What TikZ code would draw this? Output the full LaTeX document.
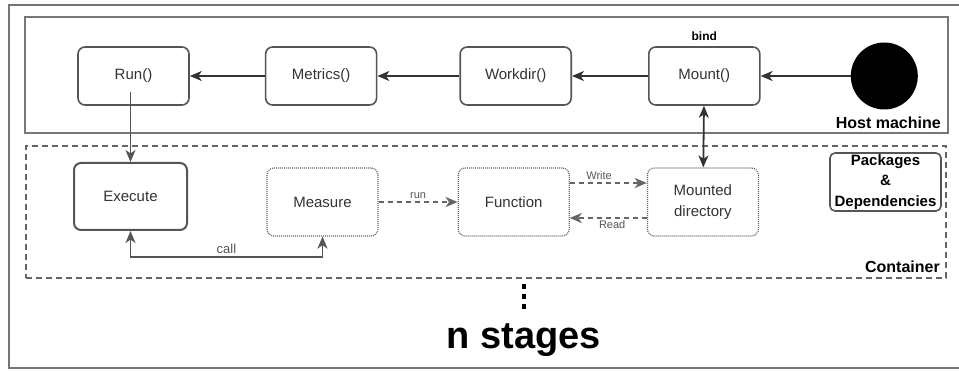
\documentclass[tikz,border=0pt]{standalone}
\usepackage{fontspec}
\setmainfont{Liberation Sans}
\usetikzlibrary{positioning,arrows.meta}
\definecolor{linegray}{HTML}{333333}
\definecolor{boxgray}{HTML}{555555}
\definecolor{framegray}{HTML}{74747E}
\definecolor{dashgray}{HTML}{666666}

\begin{document}
\begin{tikzpicture}[x=1pt, y=-1pt, >={Stealth[length=12pt,width=10pt,inset=3.5pt]},
  every node/.style={font=\fontsize{15}{18}\selectfont, text=linegray},
  fnbox/.style={draw=boxgray, line width=1.6pt, fill=white, rounded corners=7pt, minimum width=111pt, minimum height=58pt},
  dotbox/.style={draw=boxgray!90, line width=1.2pt, dash pattern=on 1pt off 1pt, fill=white, rounded corners=7pt, minimum width=111pt, minimum height=68pt, align=center},
  flow/.style={->, line width=1.8pt, draw=linegray},
  dflow/.style={flow, line width=2pt, draw=dashgray, dash pattern=on 5pt off 4pt},
  edgelabel/.style={font=\fontsize{11}{13}\selectfont, text=boxgray, inner sep=2pt},
  tag/.style={font=\bfseries\fontsize{16}{19}\selectfont, text=black, inner sep=0pt}]
  \fill[white] (0,0) rectangle (959,371);
  \useasboundingbox (0,0) rectangle (959,371);
  \draw[framegray, line width=2.5pt] (962,5) -- (9,5) -- (9,368) -- (962,368);

  % host side
  \node[draw=boxgray!80, line width=2pt, minimum width=923pt, minimum height=116pt] (host) at (486.5,75) {};
  \node[draw=dashgray, line width=2pt, dash pattern=on 6pt off 4pt, minimum width=920pt, minimum height=132pt] (container) at (486,212) {};

  \node[fnbox] (run) at (133.5,76) {Run()};
  \node[fnbox, right=75pt of run] (metrics) {Metrics()};
  \node[fnbox, right=82pt of metrics] (workdir) {Workdir()};
  \node[fnbox, right=76pt of workdir] (mount) {Mount()};
  \node[circle, fill=black, minimum size=67pt, inner sep=0pt, right=90pt of mount] (hostdot) {};
  \node[tag, font=\bfseries\fontsize{12}{14}\selectfont, above=5pt of mount] (bind) {bind};
  \node[tag, anchor=base east] (hostlbl) at ([xshift=-8pt, yshift=5pt]host.south east) {Host machine};

  % container side
  \node[fnbox, line width=2pt, minimum width=113pt, minimum height=67pt] (exec) at (130.5,196.5) {Execute};
  \node[dotbox] (measure) at (322.5,202) {Measure};
  \node[dotbox, right=79pt of measure] (func) {Function};
  \node[dotbox, right=77pt of func, font=\fontsize{15}{20.5}\selectfont] (mounted) {Mounted\\directory};
  \node[fnbox, rounded corners=5pt, inner sep=1pt, align=center, text=black, font=\bfseries\fontsize{15}{20.5}\selectfont] (pkgs) at (885.5,182) {Packages\\\&\\Dependencies};
  \node[tag, anchor=base east] (contlbl) at ([xshift=-7pt, yshift=6pt]container.south east) {Container};

  \draw[flow] (metrics) -- (run);
  \draw[flow] (workdir) -- (metrics);
  \draw[flow] (mount) -- (workdir);
  \draw[flow] (hostdot) -- (mount);
  \draw[flow, draw=boxgray, shorten <=16pt] (run.center -| exec.north) -- (exec.north);
  \draw[flow, <->] (mount) -- (mounted);
  \draw[flow, draw=boxgray, <->] (exec.south) -- ++(0,26) -| node[edgelabel, font=\fontsize{13}{15}\selectfont, pos=0.25, above] {call} (measure.south);
  \draw[dflow] (measure) -- node[edgelabel, above] {run} (func);
  \draw[dflow] ([yshift=19pt]func.east) -- node[edgelabel, above, pos=0.38] {Write} ([yshift=19pt]mounted.west);
  \draw[dflow] ([yshift=-16pt]mounted.west) -- node[edgelabel, below, pos=0.45] {Read} ([yshift=-16pt]func.east);

  % more stages
  \node[tag, font=\bfseries\fontsize{38}{44}\selectfont, anchor=base] (stages) at (524,349) {n stages};
  \draw[black, line width=4.5pt, dash pattern=on 5pt off 5pt, shorten <=5pt, shorten >=12pt] (container.south -| stages.north) -- (stages.north);
\end{tikzpicture}
\end{document}
